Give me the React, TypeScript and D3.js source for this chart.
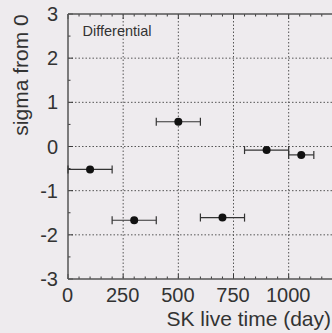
import React from "react";
import * as d3 from "d3";

const days = [100, 300, 500, 700, 900, 1057];
const dayErrLo = [100, 100, 100, 100, 100, 57];
const dayErrHi = [100, 100, 100, 100, 100, 57];
const sigma = [-0.52, -1.67, 0.56, -1.61, -0.08, -0.19];
const xTicks = [0, 250, 500, 750, 1000];
const yTicks = [-3, -2, -1, 0, 1, 2, 3];
const xMinor = d3.range(0, 1201, 50);
const yMinor = d3.range(-3, 3.01, 0.5);

export default function App() {
  const W = 332, H = 333;
  const x = d3.scaleLinear().domain([0, 1200]).range([68, 332.8]);
  const y = d3.scaleLinear().domain([-3, 3]).range([279, 14]);
  const font = "'Liberation Sans', Arial, sans-serif";
  const ink = "#3a3a3a";
  return (
    <svg width={W} height={H} style={{ position: "absolute", left: 0, top: 0 }} fontFamily={font}>
      <rect x={0} y={0} width={W} height={H} fill="#eeebee" />
      {xTicks.slice(1).map((t) => (
        <line key={"gx" + t} x1={x(t)} x2={x(t)} y1={y(3)} y2={y(-3)} stroke="#555" strokeWidth={1} strokeDasharray="1.5,2" />
      ))}
      {yTicks.slice(1, -1).map((t) => (
        <line key={"gy" + t} x1={x(0)} x2={x(1200)} y1={y(t)} y2={y(t)} stroke="#555" strokeWidth={1} strokeDasharray="1.5,2" />
      ))}
      {xMinor.map((t) => (
        <g key={"mx" + t}>
          <line x1={x(t)} x2={x(t)} y1={y(3)} y2={y(3) + (t % 250 === 0 ? 5 : 2.5)} stroke={ink} strokeWidth={1} />
          <line x1={x(t)} x2={x(t)} y1={y(-3)} y2={y(-3) - (t % 250 === 0 ? 5 : 2.5)} stroke={ink} strokeWidth={1} />
        </g>
      ))}
      {yMinor.map((t) => (
        <line key={"my" + t} x1={x(0)} x2={x(0) + (Number.isInteger(t) ? 5 : 2.5)} y1={y(t)} y2={y(t)} stroke={ink} strokeWidth={1} />
      ))}
      <line x1={x(0)} x2={x(1200)} y1={y(3)} y2={y(3)} stroke="#555" strokeWidth={1.5} />
      <line x1={x(0)} x2={x(1200)} y1={y(-3)} y2={y(-3)} stroke="#555" strokeWidth={1.5} />
      <line x1={x(0)} x2={x(0)} y1={y(3)} y2={y(-3)} stroke="#555" strokeWidth={1.5} />
      {xTicks.map((t) => (
        <text key={"tx" + t} x={x(t) - 0.5} y={302} textAnchor="middle" fontSize={20} fill="#333">{t}</text>
      ))}
      {yTicks.map((t) => (
        <text key={"ty" + t} x={58} y={y(t) + 7} textAnchor="end" fontSize={20} fill="#333">{t}</text>
      ))}
      <text x={331} y={326} textAnchor="end" fontSize={21} fill="#333">SK live time (day)</text>
      <text transform={`translate(28,${75}) rotate(-90)`} textAnchor="middle" fontSize={21} fill="#333">sigma from 0</text>
      <text x={82.5} y={36} fontSize={14.5} fill="#333">Differential</text>
      {days.map((d, i) => {
        const cy = y(sigma[i]);
        const x1 = x(d - dayErrLo[i]);
        const x2 = x(d + dayErrHi[i]);
        return (
          <g key={"p" + i}>
            <line x1={x1} x2={x2} y1={cy} y2={cy} stroke="#333" strokeWidth={1.2} />
            <line x1={x1} x2={x1} y1={cy - 4} y2={cy + 4} stroke="#333" strokeWidth={1.2} />
            <line x1={x2} x2={x2} y1={cy - 4} y2={cy + 4} stroke="#333" strokeWidth={1.2} />
            <circle cx={x(d)} cy={cy} r={4} fill="#111" />
          </g>
        );
      })}
    </svg>
  );
}
